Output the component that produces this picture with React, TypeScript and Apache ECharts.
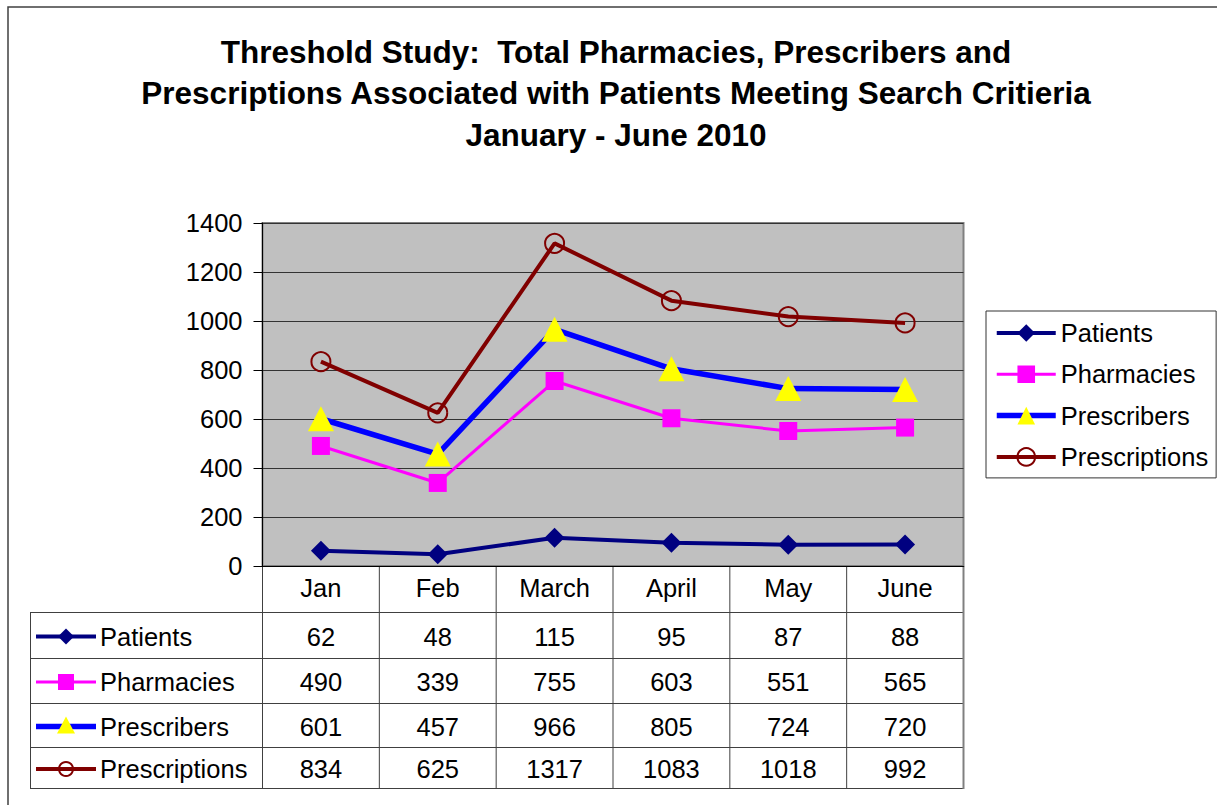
import React, { useEffect, useRef } from 'react';
import * as echarts from 'echarts';

// ---- data ----
const months = ['Jan', 'Feb', 'March', 'April', 'May', 'June'];
const patients = [62, 48, 115, 95, 87, 88];
const pharmacies = [490, 339, 755, 603, 551, 565];
const prescribers = [601, 457, 966, 805, 724, 720];
const prescriptions = [834, 625, 1317, 1083, 1018, 992];
const seriesNames = ['Patients', 'Pharmacies', 'Prescribers', 'Prescriptions'];
const yMin = 0;
const yMax = 1400;
const yStep = 200;
const titleText =
  'Threshold Study:  Total Pharmacies, Prescribers and\nPrescriptions Associated with Patients Meeting Search Critieria\nJanuary - June 2010';

// ---- styling / layout ----
const FONT = 'Arial, "Liberation Sans", Helvetica, sans-serif';
const FS = 25.5;
const PLOT_L = 262.5;
const PLOT_T = 223;
const PLOT_W = 701;
const PLOT_H = 343;
const PLOT_B = PLOT_T + PLOT_H;
const TABLE_L = 30;
const ROW_LINES = [612, 658, 703, 747, 788];

type Def = {
  name: string;
  data: number[];
  line: string;
  lineWidth: number;
  symbol: string;
  symbolSize: number | number[];
  fill: string;
  border?: string;
  borderWidth?: number;
};

const defs: Def[] = [
  { name: seriesNames[0], data: patients, line: '#000080', lineWidth: 4, symbol: 'diamond', symbolSize: 20, fill: '#000080' },
  { name: seriesNames[1], data: pharmacies, line: '#FF00FF', lineWidth: 3, symbol: 'rect', symbolSize: 18, fill: '#FF00FF' },
  { name: seriesNames[2], data: prescribers, line: '#0000FF', lineWidth: 5.5, symbol: 'triangle', symbolSize: [26, 25], fill: '#FFFF00' },
  { name: seriesNames[3], data: prescriptions, line: '#800000', lineWidth: 4, symbol: 'circle', symbolSize: 19, fill: 'rgba(0,0,0,0)', border: '#800000', borderWidth: 2 },
];

function tableIcon(d: Def, cy: number): any[] {
  const cx = 66;
  const out: any[] = [
    { type: 'line', shape: { x1: 36, y1: cy, x2: 96, y2: cy }, style: { stroke: d.line, lineWidth: d.lineWidth } },
  ];
  if (d.symbol === 'diamond') {
    out.push({ type: 'polygon', shape: { points: [[cx, cy - 8], [cx + 8, cy], [cx, cy + 8], [cx - 8, cy]] }, style: { fill: d.fill } });
  } else if (d.symbol === 'rect') {
    out.push({ type: 'rect', shape: { x: cx - 8, y: cy - 8, width: 16, height: 16 }, style: { fill: d.fill } });
  } else if (d.symbol === 'triangle') {
    out.push({ type: 'polygon', shape: { points: [[cx, cy - 10], [cx + 9, cy + 7], [cx - 9, cy + 7]] }, style: { fill: d.fill } });
  } else {
    out.push({ type: 'circle', shape: { cx, cy, r: 7 }, style: { fill: 'none', stroke: d.border, lineWidth: 2 } });
  }
  return out;
}

function txt(text: string, x: number, y: number, align: string) {
  return {
    type: 'text',
    x,
    y,
    style: {
      text,
      fontSize: FS,
      fontFamily: FONT,
      fill: '#000',
      align,
      verticalAlign: 'middle',
      textAlign: align,
      textVerticalAlign: 'middle',
    },
    silent: true,
  };
}

function buildGraphic(): any[] {
  const colW = PLOT_W / months.length;
  const els: any[] = [];
  // outer chart border
  els.push({ type: 'rect', shape: { x: 8, y: 7, width: 1240, height: 840 }, style: { fill: 'none', stroke: '#404040', lineWidth: 1.5 }, silent: true });
  // horizontal table lines
  ROW_LINES.forEach((y) => {
    els.push({ type: 'line', shape: { x1: TABLE_L, y1: y + 0.5, x2: PLOT_L + PLOT_W, y2: y + 0.5 }, style: { stroke: '#404040', lineWidth: 1 }, silent: true });
  });
  // left table border
  els.push({ type: 'line', shape: { x1: TABLE_L + 0.5, y1: ROW_LINES[0], x2: TABLE_L + 0.5, y2: ROW_LINES[ROW_LINES.length - 1] }, style: { stroke: '#404040', lineWidth: 1 }, silent: true });
  // column lines
  for (let i = 0; i <= months.length; i++) {
    const x = PLOT_L + i * colW;
    const last = i === months.length;
    els.push({
      type: 'line',
      shape: { x1: x, y1: PLOT_B, x2: x, y2: ROW_LINES[ROW_LINES.length - 1] + 1 },
      style: { stroke: last ? '#808080' : '#404040', lineWidth: last ? 2 : 1 },
      silent: true,
    });
  }
  // rows
  defs.forEach((d, r) => {
    const cy = (ROW_LINES[r] + ROW_LINES[r + 1]) / 2 + 1.5;
    tableIcon(d, cy).forEach((e) => els.push({ ...e, silent: true }));
    els.push(txt(d.name, 100, cy, 'left'));
    d.data.forEach((v, j) => {
      els.push(txt(String(v), PLOT_L + colW * (j + 0.5), cy, 'center'));
    });
  });
  return els;
}

export default function App() {
  const ref = useRef<HTMLDivElement>(null);
  useEffect(() => {
    if (!ref.current) return;
    const chart = echarts.init(ref.current, undefined, { renderer: 'svg' });
    chart.setOption({
      animation: false,
      backgroundColor: '#ffffff',
      title: {
        text: titleText,
        left: 616,
        top: 31,
        padding: 0,
        textAlign: 'center',
        textStyle: { fontSize: 31.5, fontWeight: 'bold', fontFamily: FONT, color: '#000', lineHeight: 41.5 },
      },
      legend: {
        orient: 'vertical',
        left: 986,
        top: 311,
        padding: [9, 8, 8, 8],
        itemWidth: 59,
        itemHeight: 22,
        itemGap: 15.3,
        borderColor: '#333',
        borderWidth: 1,
        backgroundColor: '#fff',
        textStyle: { fontSize: FS, fontFamily: FONT, color: '#000' },
        data: defs.map((d) => ({ name: d.name, lineStyle: { width: d.lineWidth, color: d.line } })),
      },
      grid: {
        left: PLOT_L,
        top: PLOT_T,
        width: PLOT_W,
        height: PLOT_H,
        show: true,
        backgroundColor: '#C0C0C0',
        borderColor: '#808080',
        borderWidth: 2,
        containLabel: false,
      },
      xAxis: {
        type: 'category',
        data: months,
        boundaryGap: true,
        axisLine: { lineStyle: { color: '#000', width: 1 } },
        axisTick: { show: false },
        axisLabel: { margin: 9, fontSize: FS, fontFamily: FONT, color: '#000' },
        splitLine: { show: false },
      },
      yAxis: {
        type: 'value',
        min: yMin,
        max: yMax,
        interval: yStep,
        axisLine: { show: true, lineStyle: { color: '#000', width: 1 } },
        axisTick: { show: true, length: 9, lineStyle: { color: '#000' } },
        axisLabel: { margin: 20, fontSize: FS, fontFamily: FONT, color: '#000', formatter: (v: number) => String(v) },
        splitLine: { show: true, lineStyle: { color: '#333', width: 1 } },
      },
      series: defs.map((d) => ({
        name: d.name,
        type: 'line',
        data: d.data,
        symbol: d.symbol,
        symbolSize: d.symbolSize,
        showAllSymbol: true,
        lineStyle: { color: d.line, width: d.lineWidth },
        itemStyle: {
          color: d.fill,
          borderColor: d.border || d.fill,
          borderWidth: d.borderWidth || 0,
        },
        emphasis: { disabled: true },
      })),
      graphic: buildGraphic(),
    });
    return () => chart.dispose();
  }, []);
  return (
    <div
      ref={ref}
      style={{ position: 'fixed', left: 0, top: 0, width: 1217, height: 805, background: '#fff' }}
    />
  );
}
